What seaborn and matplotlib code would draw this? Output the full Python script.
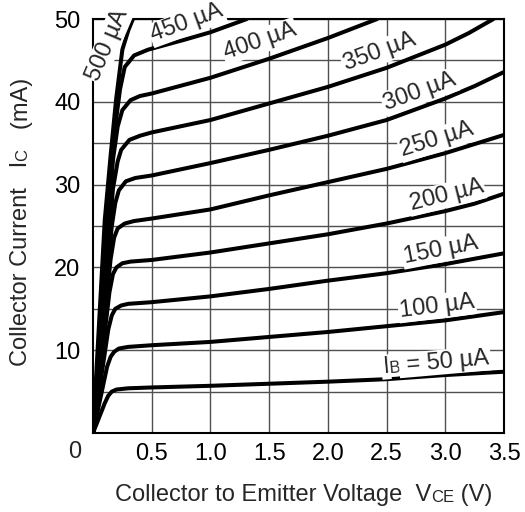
import numpy as np
import pandas as pd
import matplotlib
matplotlib.use('Agg')
import matplotlib.pyplot as plt
import seaborn as sns

# Output characteristics: VCE (V) vs IC (mA) for each IB
vce_50 = [0, 0.10, 0.13, 0.16, 0.20, 0.30, 0.5, 1.0, 1.5, 2.0, 2.5, 3.0, 3.5]
ic_50 = [0, 3.6, 4.5, 5.0, 5.25, 5.4, 5.5, 5.7, 5.95, 6.2, 6.5, 7.0, 7.4]
vce_100 = [0, 0.12, 0.15, 0.18, 0.22, 0.30, 0.5, 1.0, 1.5, 2.0, 2.5, 3.0, 3.5]
ic_100 = [0, 8.0, 9.2, 9.8, 10.2, 10.4, 10.6, 11.0, 11.6, 12.2, 12.9, 13.6, 14.6]
vce_150 = [0, 0.13, 0.16, 0.19, 0.24, 0.30, 0.5, 1.0, 1.5, 2.0, 2.5, 3.0, 3.5]
ic_150 = [0, 12.5, 14.2, 15.0, 15.4, 15.6, 15.8, 16.5, 17.4, 18.4, 19.3, 20.4, 21.7]
vce_200 = [0, 0.14, 0.17, 0.20, 0.25, 0.32, 0.5, 1.0, 1.5, 2.0, 2.5, 3.0, 3.25, 3.5]
ic_200 = [0, 17.0, 19.2, 20.0, 20.5, 20.7, 20.9, 21.8, 22.9, 24.0, 25.3, 26.8, 27.7, 28.9]
vce_250 = [0, 0.15, 0.18, 0.21, 0.27, 0.35, 0.5, 1.0, 1.5, 2.0, 2.5, 3.0, 3.5]
ic_250 = [0, 21.0, 23.6, 24.7, 25.3, 25.6, 25.9, 27.0, 28.7, 30.3, 31.9, 33.8, 36.0]
vce_300 = [0, 0.16, 0.19, 0.22, 0.28, 0.36, 0.5, 1.0, 1.5, 2.0, 2.5, 3.0, 3.25, 3.5]
ic_300 = [0, 25.0, 27.8, 29.3, 30.4, 30.8, 31.1, 32.6, 34.2, 35.9, 37.8, 40.4, 41.9, 43.6]
vce_350 = [0, 0.17, 0.21, 0.24, 0.31, 0.40, 0.5, 1.0, 1.5, 2.0, 2.5, 3.0, 3.2, 3.41]
ic_350 = [0, 29.5, 32.8, 34.2, 35.4, 35.9, 36.3, 37.8, 39.8, 41.8, 44.1, 46.9, 48.3, 50.0]
vce_400 = [0, 0.17, 0.21, 0.25, 0.32, 0.40, 0.5, 1.0, 1.5, 2.0, 2.42]
ic_400 = [0, 33.0, 37.0, 39.0, 40.2, 40.7, 41.0, 42.9, 45.2, 47.7, 50.0]
vce_450 = [0, 0.18, 0.23, 0.27, 0.35, 0.47, 0.78, 1.0, 1.31]
ic_450 = [0, 36.0, 41.5, 44.2, 45.6, 46.3, 47.5, 48.4, 50.0]
vce_500 = [0, 0.10, 0.15, 0.196, 0.25, 0.30, 0.34]
ic_500 = [0, 25.7, 33.5, 40.2, 46.3, 48.6, 50.0]

base_currents = [50, 100, 150, 200, 250, 300, 350, 400, 450, 500]
curve_labels = ['50 µA', '100 µA', '150 µA', '200 µA', '250 µA', '300 µA',
                '350 µA', '400 µA', '450 µA', '500 µA']

x_ticks = [0.5, 1.0, 1.5, 2.0, 2.5, 3.0, 3.5]
y_ticks = [10, 20, 30, 40, 50]

FONT = 17
SMALL = 12

sns.set_theme(style='white')
plt.rcParams['font.family'] = ['Liberation Sans', 'DejaVu Sans']

curves = [(vce_50, ic_50), (vce_100, ic_100), (vce_150, ic_150), (vce_200, ic_200),
          (vce_250, ic_250), (vce_300, ic_300), (vce_350, ic_350), (vce_400, ic_400),
          (vce_450, ic_450), (vce_500, ic_500)]
rows = []
for ib, (v, i) in zip(base_currents, curves):
    for vv, ii in zip(v, i):
        rows.append({'IB': ib, 'VCE': vv, 'IC': ii})
df = pd.DataFrame(rows)

fig = plt.figure(figsize=(5.25, 5.12), dpi=100)
ax = fig.add_axes([93 / 525, 1 - 433 / 512, (504 - 93) / 525, (433 - 19) / 512])

sns.lineplot(data=df, x='VCE', y='IC', units='IB', estimator=None, sort=False,
             color='black', lw=2.9, ax=ax, zorder=4, solid_joinstyle='round',
             solid_capstyle='round')

ax.set_xlim(0, 3.5)
ax.set_ylim(0, 50)
ax.set_xticks(x_ticks)
ax.set_xticklabels([f'{t:.1f}' for t in x_ticks])
ax.set_yticks(y_ticks)
ax.set_yticklabels([str(t) for t in y_ticks])
ax.set_yticks([5, 15, 25, 35, 45], minor=True)
ax.tick_params(which='both', length=0, labelsize=FONT, colors='black')
ax.tick_params(axis='x', pad=7)
ax.tick_params(axis='y', pad=9)
ax.grid(True, which='both', color='#505050', lw=1.0)
ax.set_xlabel('')
ax.set_ylabel('')
for s in ax.spines.values():
    s.set_visible(True)
    s.set_color('black')
    s.set_linewidth(1.5)

fig.text(75 / 525, 1 - 452 / 512, '0', fontsize=FONT, ha='center', va='center')

fig.canvas.draw()
renderer = fig.canvas.get_renderer()


def text_width(s, size):
    t = fig.text(0, 0, s, fontsize=size)
    w = t.get_window_extent(renderer).width * 72 / fig.dpi
    t.remove()
    return w


def smallcaps(x, y, parts, angle, coords='data', box=False):
    # parts drawn one after another on a shared baseline, centred on (x, y)
    widths = [text_width(s, size) for s, size in parts]
    a = np.radians(angle)
    d = -sum(widths) / 2
    h = parts[0][1] * 0.36
    for (s, size), w in zip(parts, widths):
        ox = d * np.cos(a) + h * np.sin(a)
        oy = d * np.sin(a) - h * np.cos(a)
        kw = {}
        if box:
            kw['bbox'] = dict(facecolor='white', edgecolor='none', pad=1.0)
        ax.annotate(s, xy=(x, y), xycoords=coords, xytext=(ox, oy),
                    textcoords='offset points', fontsize=size, rotation=angle,
                    rotation_mode='anchor', ha='left', va='baseline',
                    annotation_clip=False, zorder=6, **kw)
        d += w


# curve labels: centre (VCE, IC) and angle
label_pos = [(2.92, 8.8, 5), (2.93, 15.3, 7), (2.96, 22.1, 11), (3.01, 28.7, 14),
             (2.93, 35.4, 17), (2.78, 41.2, 20), (2.44, 46.0, 20), (1.42, 47.3, 19),
             (0.80, 49.5, 20), (0.125, 46.9, 67)]
for lab, (x, y, ang) in zip(curve_labels, label_pos):
    if lab == '50 µA':
        smallcaps(x, y, [('I', FONT), ('B', SMALL), (' = 50 µA', FONT)], ang, box=True)
    else:
        ax.text(x, y, lab, fontsize=FONT, rotation=ang, rotation_mode='anchor',
                ha='center', va='center', zorder=6, clip_on=False,
                bbox=dict(facecolor='white', edgecolor='none', pad=1.0))

smallcaps(304, 512 - 493, [('Collector to Emitter Voltage  V', FONT), ('CE', SMALL),
                           (' (V)', FONT)], 0, coords='figure pixels')
smallcaps(19, 512 - 222, [('Collector Current   I', FONT), ('C', SMALL),
                          ('   (mA)', FONT)], 90, coords='figure pixels')

fig.savefig('out.png', dpi=100)
